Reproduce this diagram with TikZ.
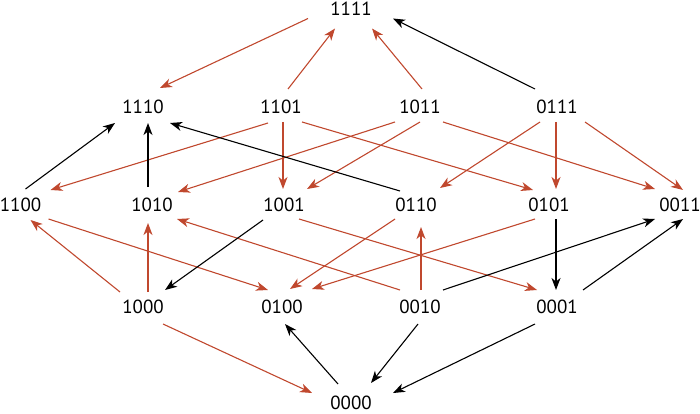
\documentclass[tikz,border=0pt]{standalone}
\usepackage{fontspec}
\setmainfont{PT Sans}
\usetikzlibrary{arrows.meta,calc}
\definecolor{edgered}{RGB}{192,72,46}
\begin{document}
\begin{tikzpicture}[x=1pt,y=-1pt,
  lbl/.style={inner sep=0pt,font=\fontsize{19}{19}\selectfont},
  re/.style={draw=edgered,line width=1.1pt,-{Stealth[length=12pt,width=9pt,inset=3.5pt]}},
  bk/.style={draw=black,line width=1.1pt,-{Stealth[length=12pt,width=9pt,inset=3.5pt]}}]
\useasboundingbox (0,0) rectangle (700,414);
\node[lbl] (n1111) at (351,8.5) {1111};
\node[lbl] (n1110) at (143,106.5) {1110};
\node[lbl] (n1101) at (281,106.5) {1101};
\node[lbl] (n1011) at (420,106.5) {1011};
\node[lbl] (n0111) at (557,106.5) {0111};
\node[lbl] (n1100) at (20.5,205) {1100};
\node[lbl] (n1010) at (152,205) {1010};
\node[lbl] (n1001) at (284,205) {1001};
\node[lbl] (n0110) at (416,205) {0110};
\node[lbl] (n0101) at (549,205) {0101};
\node[lbl] (n0011) at (680,205) {0011};
\node[lbl] (n1000) at (143,306.5) {1000};
\node[lbl] (n0100) at (282,306.5) {0100};
\node[lbl] (n0010) at (420,306.5) {0010};
\node[lbl] (n0001) at (557,306.5) {0001};
\node[lbl] (n0000) at (351,403) {0000};
% red edges
\draw[re] ($(n1111)+(-43,10)$) -- ($(n1110)+(17,-18.5)$);
\draw[re] ($(n1101)+(7,-17.5)$) -- ($(n1111)+(-16,20)$);
\draw[re] ($(n1011)+(2,-17.5)$) -- ($(n1111)+(21,20)$);
\draw[re] ($(n1101)+(-13,16.5)$) -- ($(n1100)+(30,-15)$);
\draw[re] ($(n1101)+(2,15.5)$) -- ($(n1001)+(-1,-16)$);
\draw[re] ($(n1101)+(21,15.5)$) -- ($(n0101)+(-16,-15)$);
\draw[re] ($(n1011)+(-25,15.5)$) -- ($(n1010)+(26,-13)$);
\draw[re] ($(n1011)+(0,15.5)$) -- ($(n1001)+(23,-16)$);
\draw[re] ($(n1011)+(23,15.5)$) -- ($(n0011)+(-25,-16)$);
\draw[re] ($(n0111)+(-17,15.5)$) -- ($(n0110)+(24,-17)$);
\draw[re] ($(n0111)+(-1,15.5)$) -- ($(n0101)+(7,-16)$);
\draw[re] ($(n0111)+(28,15.5)$) -- ($(n0011)+(3,-15)$);
\draw[re] ($(n1000)+(-23,-14.5)$) -- ($(n1100)+(10,15)$);
\draw[re] ($(n1000)+(5,-14.5)$) -- ($(n1010)+(-4,18)$);
\draw[re] ($(n1100)+(28,14)$) -- ($(n0100)+(-14,-16.5)$);
\draw[re] ($(n0010)+(-20,-16.5)$) -- ($(n1010)+(25,14)$);
\draw[re] ($(n1001)+(15,14)$) -- ($(n0001)+(-20,-16.5)$);
\draw[re] ($(n0110)+(-21,14)$) -- ($(n0100)+(8,-17.5)$);
\draw[re] ($(n0101)+(-14,14)$) -- ($(n0100)+(30,-17.5)$);
\draw[re] ($(n1000)+(20,17.5)$) -- ($(n0000)+(-39,-10)$);
\draw[re] ($(n0010)+(1,-16.5)$) -- ($(n0110)+(5,22)$);
% black edges
\draw[bk] ($(n1100)+(5,-16)$) -- ($(n1110)+(-28,16.5)$);
\draw[bk] ($(n1010)+(-4,-18)$) -- ($(n1110)+(5,16.5)$);
\draw[bk] ($(n0110)+(-16,-14)$) -- ($(n1110)+(27,16.5)$);
\draw[bk] ($(n0111)+(-22,-17.5)$) -- ($(n1111)+(42,10)$);
\draw[bk] ($(n1001)+(-21,15)$) -- ($(n1000)+(22,-16.5)$);
\draw[bk] ($(n0000)+(-13,-19)$) -- ($(n0100)+(3,17.5)$);
\draw[bk] ($(n0101)+(7,14)$) -- ($(n0001)+(-1,-16.5)$);
\draw[bk] ($(n0010)+(23,-16.5)$) -- ($(n0011)+(-25,14)$);
\draw[bk] ($(n0001)+(26,-16.5)$) -- ($(n0011)+(3,14)$);
\draw[bk] ($(n0010)+(-2,17.5)$) -- ($(n0000)+(20,-20)$);
\draw[bk] ($(n0001)+(-22,17.5)$) -- ($(n0000)+(42,-10)$);
\end{tikzpicture}
\end{document}
